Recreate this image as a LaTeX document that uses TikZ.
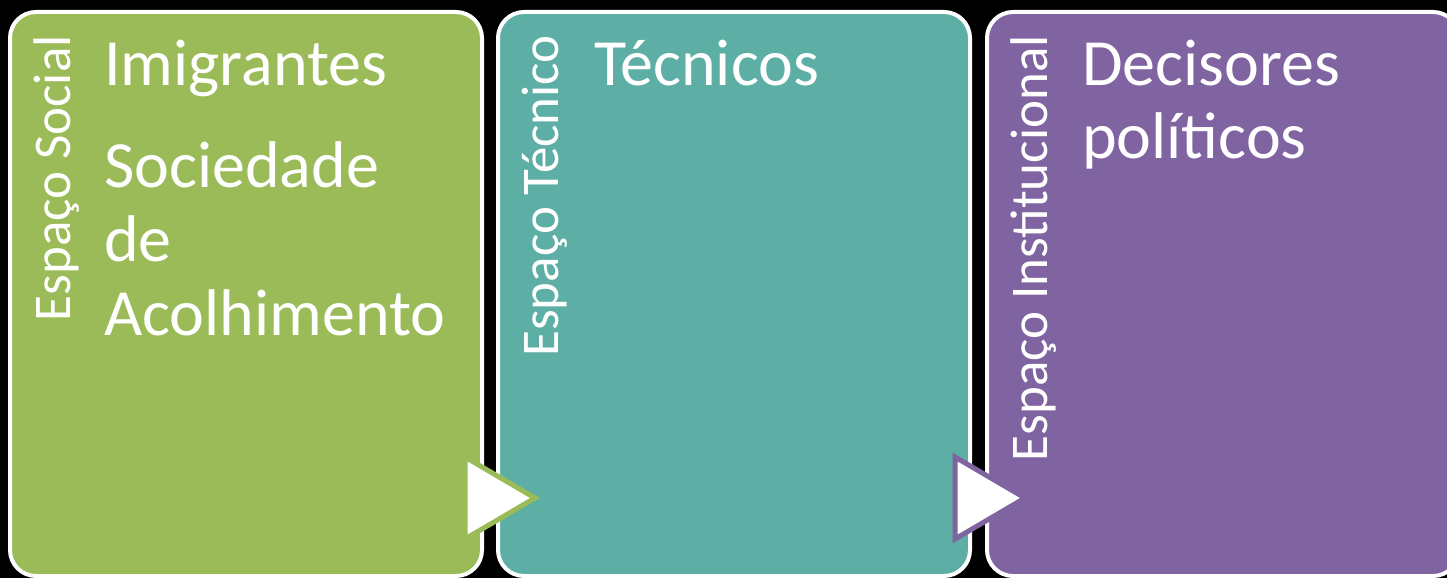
\documentclass[tikz,border=0pt]{standalone}
\usepackage{fontspec}
\setmainfont{Carlito}
\definecolor{cgreen}{HTML}{9BBB59}
\definecolor{cteal}{HTML}{5DAEA5}
\definecolor{cpurple}{HTML}{8064A2}
\tikzset{
  panel/.style={draw=white, line width=4pt, rounded corners=26pt},
  sidelabel/.style={rotate=90, anchor=base east, inner sep=0pt, text=white, font=\fontsize{53}{60}\selectfont},
  itemtext/.style={anchor=base west, inner sep=0pt, text=white, font=\fontsize{66}{76}\selectfont},
  chevron/.style={fill=white, line width=5pt, line join=miter},
}
\begin{document}
\begin{tikzpicture}[x=1pt,y=-1pt]
\useasboundingbox (0,0) rectangle (1447,578);
\fill[black] (0,0) rectangle (1447,578);
\begin{scope}
\clip (0,0) rectangle (1447,578);
% panels
\draw[panel, fill=cgreen] (10,12) rectangle (482,576);
\draw[panel, fill=cteal] (498,12) rectangle (970,576);
\draw[panel, fill=cpurple] (987,12) rectangle (1459,576);
% arrows
\coordinate (a1t) at (465,457);
\coordinate (a1b) at (465,539);
\coordinate (a1p) at (535,498);
\draw[chevron, draw=cgreen] (a1t) -- (a1p) -- (a1b) -- cycle;
\coordinate (a2t) at (955,457);
\coordinate (a2b) at (955,539);
\coordinate (a2p) at (1025,498);
\draw[chevron, draw=cpurple] (a2t) -- (a2p) -- (a2b) -- cycle;
% side labels
\node[sidelabel] (s1) at (70,35) {Espaço Social};
\node[sidelabel] (s2) at (558,35) {Espaço Técnico};
\node[sidelabel] (s3) at (1047,35) {Espaço Institucional};
% items
\node[itemtext] (g1) at (104,85) {Imigrantes};
\node[itemtext] (g2) at (104,187) {Sociedade};
\node[itemtext] (g3) at (104,261) {de};
\node[itemtext] (g4) at (104,335) {Acolhimento};
\node[itemtext] (t1) at (594,85) {Técnicos};
\node[itemtext] (p1) at (1082,85) {Decisores};
\node[itemtext] (p2) at (1082,158) {políticos};
\end{scope}
\end{tikzpicture}
\end{document}
